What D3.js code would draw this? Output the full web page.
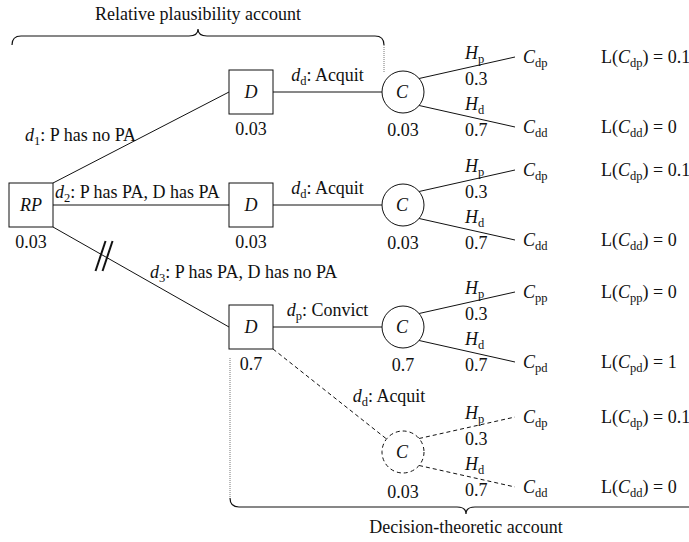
<!DOCTYPE html>
<html>
<head>
<meta charset="utf-8">
<script src="https://cdn.jsdelivr.net/npm/d3@7"></script>
<style>
  body { margin: 0; background: #fff; }
</style>
</head>
<body>
<svg id="chart" width="689" height="542"></svg>
<script>
// tree values
var rpValue = "0.03";
var decisionRows = ["r1", "r2", "r3"];
var decisionValues = ["0.03", "0.03", "0.7"];
var decisionLabels = [["1", "P has no PA"], ["2", "P has PA, D has PA"], ["3", "P has PA, D has no PA"]];
var chanceRows = ["r1", "r2", "r3", "r4"];
var chanceParent = [0, 1, 2, 2];
var chanceDashed = [false, false, false, true];
var actionLabels = [["d", "Acquit"], ["d", "Acquit"], ["p", "Convict"], ["d", "Acquit"]];
var chanceValues = ["0.03", "0.03", "0.7", "0.03"];
var hypLabels = ["p", "d"];
var hypProbs = ["0.3", "0.7"];
var outcomeLabels = [["dp", "dd"], ["dp", "dd"], ["pp", "pd"], ["dp", "dd"]];
var lossValues = [["0.1", "0"], ["0.1", "0"], ["0", "1"], ["0.1", "0"]];
var accounts = ["Relative plausibility account", "Decision-theoretic account"];

var svg = d3.select("#chart")
  .attr("font-family", "Liberation Serif")
  .attr("font-size", 18);

var x = d3.scaleOrdinal()
  .domain(["rp", "dec", "chance", "branch", "outcome", "loss"])
  .range([31, 251, 403, 466, 523, 601]);
var y = d3.scaleOrdinal()
  .domain(["r1", "r2", "r3", "r4"])
  .range([92, 205, 327, 452]);
var branchY = d3.scaleOrdinal().domain(hypLabels).range([-35, 35]);

var half = 22, rad = 21;
var rpY = y("r2");

// text with italic / subscript pieces: [text, kind] kind = "i" | "s" | ""
function rich(g, px, py, parts, anchor) {
  var t = g.append("text").attr("x", px).attr("y", py)
    .attr("font-family", "Liberation Serif").attr("fill", "#111")
    .attr("text-anchor", anchor || "start");
  var shift = 0;
  parts.forEach(function(p) {
    var s = t.append("tspan").text(p[0]);
    var want = p[1] === "s" ? 4 : 0;
    if (want !== shift) { s.attr("dy", want - shift); shift = want; }
    if (p[1] === "i") s.attr("font-style", "italic");
    if (p[1] === "s") s.attr("font-size", 12.5);
  });
  return t;
}

function line(g, x1, y1, x2, y2, dashed) {
  return g.append("line")
    .attr("x1", x1).attr("y1", y1).attr("x2", x2).attr("y2", y2)
    .attr("stroke", "#111").attr("stroke-width", 1)
    .attr("stroke-dasharray", dashed ? "4,3" : null);
}

var g = svg.append("g");

// RP -> decision nodes
var rpRight = x("rp") + half;
decisionRows.forEach(function(r, i) {
  var sy = y(r) < rpY ? rpY - half : (y(r) > rpY ? rpY + half : rpY);
  var ex = x("dec") - half, ey = y(r);
  line(g, rpRight, sy, ex, ey);
  var lab = [["d", "i"], [decisionLabels[i][0], "s"], [": " + decisionLabels[i][1], ""]];
  if (i === 0) rich(g, (rpRight + ex) / 2 - 5, (sy + ey) / 2 + 3, lab, "end");
  else if (i === 1) rich(g, rpRight + 2, ey - 7, lab);
  else {
    rich(g, rpRight + 97, sy + 51, lab);
    // double slash on the excluded branch
    var t = 0.29, cx = rpRight + (ex - rpRight) * t, cy = sy + (ey - sy) * t;
    [-3.5, 3.5].forEach(function(o) {
      g.append("line")
        .attr("x1", cx + o - 5).attr("y1", cy + 15)
        .attr("x2", cx + o + 5).attr("y2", cy - 15)
        .attr("stroke", "#111").attr("stroke-width", 2);
    });
  }
});

// decision -> chance lines
chanceRows.forEach(function(r, i) {
  var pr = decisionRows[chanceParent[i]];
  var dx = x("dec"), dy = y(pr), cx = x("chance"), cy = y(r);
  if (!chanceDashed[i]) {
    line(g, dx + half, dy, cx - rad, cy);
    rich(g, (dx + half + cx - rad) / 2, cy - 11,
      [["d", "i"], [actionLabels[i][0], "s"], [": " + actionLabels[i][1], ""]], "middle");
  } else {
    var a = Math.atan2(cy - dy - half, cx - dx - half);
    line(g, dx + half, dy + half, cx - rad * Math.cos(a), cy - rad * Math.sin(a), true);
    rich(g, cx - 14, cy - 50,
      [["d", "i"], [actionLabels[i][0], "s"], [": " + actionLabels[i][1], ""]], "middle");
  }

  // chance branches
  hypLabels.forEach(function(h, j) {
    var sgn = j === 0 ? -1 : 1;
    var sx = cx + rad * Math.cos(Math.PI / 4.5), sy = cy + sgn * rad * Math.sin(Math.PI / 4.5);
    var ex = x("outcome") - 8, ey = cy + branchY(h);
    line(g, sx, sy, ex, ey, chanceDashed[i]);
    var bx = x("branch") - 1;
    if (j === 0) {
      rich(g, bx, cy - 33, [["H", "i"], [h, "s"]]);
      rich(g, bx, cy - 7, [[hypProbs[j], ""]]);
    } else {
      rich(g, bx, cy + 18, [["H", "i"], [h, "s"]]);
      rich(g, bx, cy + 44, [[hypProbs[j], ""]]);
    }
    rich(g, x("outcome"), ey + 6, [["C", "i"], [outcomeLabels[i][j], "s"]]);
    rich(g, x("loss"), ey + 6,
      [["L(", ""], ["C", "i"], [outcomeLabels[i][j], "s"], [") = " + lossValues[i][j], ""]]);
  });

  g.append("circle")
    .attr("cx", cx).attr("cy", cy).attr("r", rad)
    .attr("fill", "#fff").attr("stroke", "#111").attr("stroke-width", 1)
    .attr("stroke-dasharray", chanceDashed[i] ? "4,3" : null);
  rich(g, cx - 1, cy + 6, [["C", "i"]], "middle");
  rich(g, cx, cy + 44 + (chanceDashed[i] ? 2 : 0), [[chanceValues[i], ""]], "middle");
});

// RP box
g.append("rect")
  .attr("x", x("rp") - half).attr("y", rpY - half)
  .attr("width", half * 2).attr("height", half * 2)
  .attr("fill", "#fff").attr("stroke", "#111");
rich(g, x("rp"), rpY + 6, [["RP", "i"]], "middle");
rich(g, x("rp"), rpY + 43, [[rpValue, ""]], "middle");

// decision boxes
decisionRows.forEach(function(r, i) {
  g.append("rect")
    .attr("x", x("dec") - half).attr("y", y(r) - half)
    .attr("width", half * 2).attr("height", half * 2)
    .attr("fill", "#fff").attr("stroke", "#111");
  rich(g, x("dec"), y(r) + 6, [["D", "i"]], "middle");
  rich(g, x("dec"), y(r) + 43, [[decisionValues[i], ""]], "middle");
});

// braces
function brace(x1, x2, tip, by, dir) {
  // dir -1: tip points up, ends curl down; dir 1: tip points down, ends curl up
  var c = 9, e = -dir * 9, tp = dir * 7;
  return "M" + x1 + "," + (by + e) +
    "Q" + x1 + "," + by + " " + (x1 + c) + "," + by +
    "L" + (tip - c) + "," + by +
    "Q" + tip + "," + by + " " + tip + "," + (by + tp) +
    "Q" + tip + "," + by + " " + (tip + c) + "," + by +
    "L" + (x2 - c) + "," + by +
    "Q" + x2 + "," + by + " " + x2 + "," + (by + e);
}

var topL = 12, topR = x("chance") - rad + 2, topTip = 198, topY = 36;
svg.append("path").attr("d", brace(topL, topR, topTip, topY, -1))
  .attr("fill", "none").attr("stroke", "#111").attr("stroke-width", 1.2);
svg.append("line")
  .attr("x1", topR).attr("y1", topY + 9).attr("x2", topR).attr("y2", y("r1") - 19)
  .attr("stroke", "#777").attr("stroke-dasharray", "1,1");
rich(svg, topTip, 20, [[accounts[0], ""]], "middle");

var botL = x("dec") - half + 1, botR = 720, botTip = 466, botY = 507;
svg.append("path").attr("d", brace(botL, botR, botTip, botY, 1))
  .attr("fill", "none").attr("stroke", "#111").attr("stroke-width", 1.2);
svg.append("line")
  .attr("x1", botL).attr("y1", y("r3") + 31).attr("x2", botL).attr("y2", botY - 9)
  .attr("stroke", "#777").attr("stroke-dasharray", "1,1");
rich(svg, botTip, 533, [[accounts[1], ""]], "middle");
</script>
</body>
</html>
